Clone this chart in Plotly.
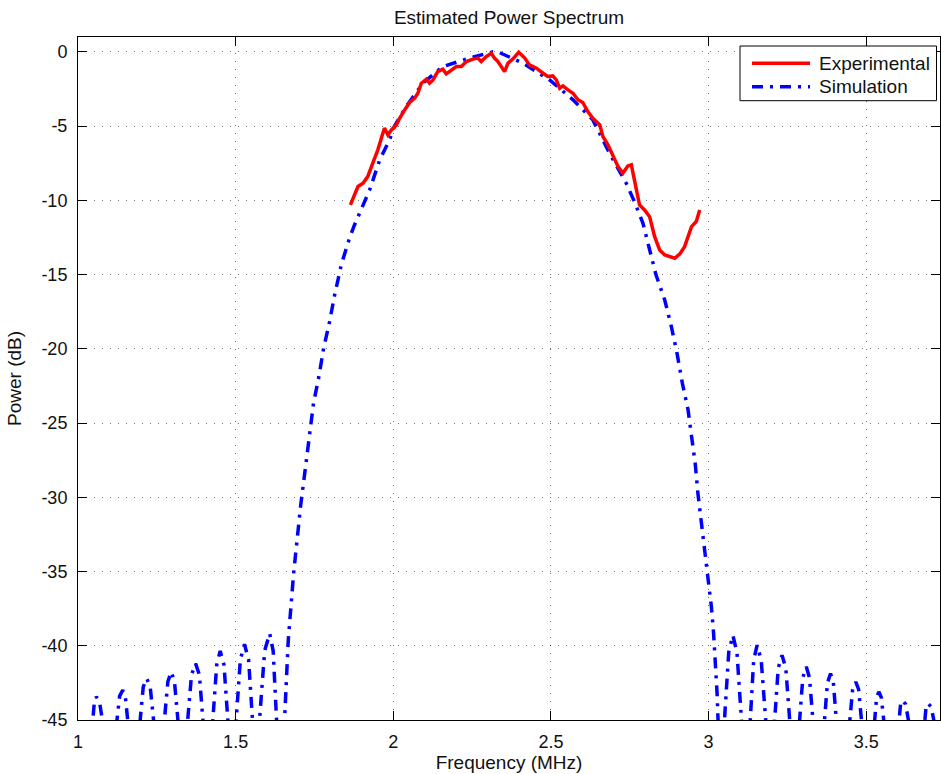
import plotly.graph_objects as go

# ---------------- data ----------------
exp_freq = [1.864, 1.872, 1.888, 1.904, 1.919, 1.935, 1.951, 1.967, 1.972, 1.983,
            1.994, 2.010, 2.020, 2.036, 2.052, 2.068, 2.078, 2.089, 2.105, 2.115,
            2.126, 2.141, 2.157, 2.168, 2.184, 2.200, 2.216, 2.232, 2.253, 2.268,
            2.279, 2.295, 2.311, 2.321, 2.332, 2.343, 2.353, 2.364, 2.379, 2.398,
            2.417, 2.432, 2.454, 2.475, 2.490, 2.506, 2.517, 2.528, 2.538, 2.554,
            2.570, 2.586, 2.601, 2.617, 2.633, 2.655, 2.665, 2.681, 2.697, 2.713,
            2.728, 2.744, 2.755, 2.766, 2.781, 2.797, 2.813, 2.829, 2.845, 2.861,
            2.877, 2.893, 2.909, 2.924, 2.935, 2.946, 2.961, 2.972]
exp_power = [-10.31, -9.86, -9.07, -8.85, -8.40, -7.50, -6.60, -5.48, -5.14, -5.59,
             -5.26, -4.92, -4.47, -3.91, -3.41, -3.12, -2.79, -2.11, -1.84, -2.11,
             -1.89, -1.33, -1.17, -1.48, -1.21, -0.99, -0.99, -0.65, -0.49, -0.42,
             -0.65, -0.32, -0.09, -0.42, -0.65, -0.99, -1.33, -0.76, -0.49, -0.03,
             -0.42, -0.88, -1.10, -1.44, -1.66, -1.62, -1.89, -2.45, -2.29, -2.56,
             -2.79, -3.23, -3.41, -4.02, -4.47, -4.92, -5.71, -6.27, -7.05, -7.73,
             -8.17, -7.68, -7.61, -8.85, -10.31, -10.65, -11.10, -12.45, -13.34, -13.68,
             -13.79, -13.90, -13.61, -13.12, -12.45, -11.77, -11.43, -10.65]

sim_freq = [1.020,
            1.045, 1.052, 1.058, 1.068, 1.081, 1.100,
            1.121, 1.132, 1.142, 1.150, 1.160, 1.178,
            1.195, 1.207, 1.218, 1.229, 1.242, 1.257,
            1.272, 1.285, 1.296, 1.306, 1.319, 1.334,
            1.346, 1.360, 1.373, 1.385, 1.398, 1.412,
            1.426, 1.440, 1.451, 1.463, 1.477, 1.490,
            1.500, 1.515, 1.528, 1.541, 1.555, 1.566,
            1.574, 1.592, 1.608, 1.619, 1.631, 1.645,
            1.654, 1.667, 1.684, 1.706, 1.729, 1.747, 1.764, 1.779, 1.798, 1.814,
            1.835, 1.861, 1.877, 1.899, 1.925, 1.957, 1.988, 2.004, 2.041, 2.094,
            2.157, 2.242, 2.316, 2.337, 2.411, 2.496, 2.570, 2.633, 2.686, 2.739,
            2.765, 2.792, 2.833, 2.861, 2.882, 2.900, 2.917, 2.935, 2.949, 2.958,
            2.966, 2.977, 2.988, 2.998, 3.009, 3.016, 3.022, 3.027, 3.031, 3.040,
            3.049, 3.064, 3.077, 3.090, 3.106, 3.118,
            3.131, 3.143, 3.154, 3.167, 3.183, 3.196,
            3.208, 3.221, 3.233, 3.245, 3.259, 3.273,
            3.287, 3.299, 3.310, 3.320, 3.333, 3.350,
            3.366, 3.377, 3.387, 3.396, 3.407, 3.428,
            3.446, 3.457, 3.467, 3.476, 3.487, 3.505,
            3.525, 3.533, 3.540, 3.548, 3.558, 3.580,
            3.602, 3.609, 3.615, 3.625, 3.638, 3.660,
            3.684, 3.690, 3.696, 3.706, 3.719, 3.735]
sim_power = [-56.0,
             -45.5, -43.75, -43.44, -43.75, -45.5, -56.0,
             -45.5, -43.39, -42.99, -43.39, -45.5, -56.0,
             -45.5, -42.76, -42.20, -42.76, -45.5, -56.0,
             -45.5, -42.41, -41.76, -42.41, -45.5, -56.0,
             -45.5, -41.96, -41.20, -41.96, -45.5, -56.0,
             -45.5, -41.28, -40.35, -41.28, -45.5, -56.0,
             -45.5, -40.92, -39.90, -40.92, -45.5, -56.0,
             -45.5, -40.34, -39.17, -40.34, -45.5, -56.0,
             -45.5, -39.60, -35.10, -30.60, -26.60, -23.67, -21.88, -19.97, -18.17, -16.37,
             -14.35, -12.55, -11.66, -10.53, -9.30, -7.28, -5.93, -5.00, -3.68, -2.11,
             -0.99, -0.42, 0.00, -0.05, -0.76, -1.89, -3.23, -4.58, -6.83, -8.85,
             -10.10, -11.55, -15.00, -16.71, -18.51, -20.30, -22.33, -24.12, -26.15, -27.80,
             -29.70, -31.65, -33.56, -35.36, -37.38, -39.17, -41.19, -43.20, -45.5, -56.0,
             -45.5, -40.43, -39.29, -40.43, -45.5, -56.0,
             -45.5, -40.97, -39.96, -40.97, -45.5, -56.0,
             -45.5, -41.50, -40.63, -41.50, -45.5, -56.0,
             -45.5, -42.14, -41.42, -42.14, -45.5, -56.0,
             -45.5, -42.50, -41.87, -42.50, -45.5, -56.0,
             -45.5, -42.94, -42.43, -42.94, -45.5, -56.0,
             -45.5, -43.48, -43.10, -43.48, -45.5, -56.0,
             -45.5, -43.94, -43.67, -43.94, -45.5, -56.0,
             -45.5, -44.11, -43.89, -44.11, -45.5, -52.0]

x_tick_vals = [1, 1.5, 2, 2.5, 3, 3.5]
x_tick_text = ["1", "1.5", "2", "2.5", "3", "3.5"]
y_tick_vals = [0, -5, -10, -15, -20, -25, -30, -35, -40, -45]
y_tick_text = ["0", "-5", "-10", "-15", "-20", "-25", "-30", "-35", "-40", "-45"]
series_names = ["Experimental", "Simulation"]

# ---------------- styling ----------------
FONT = "Liberation Sans, Arial, Helvetica, sans-serif"
RED = "#ff0000"
BLUE = "#0000ff"
SIM_DASH = "11px,7px,3px,7px"
W, H = 941, 774
ML, MR, MT, MB = 78, 1, 37, 54

fig = go.Figure()
fig.add_trace(go.Scatter(x=sim_freq, y=sim_power, mode="lines", name=series_names[1],
                         line=dict(color=BLUE, width=3.5, dash=SIM_DASH),
                         showlegend=False, cliponaxis=True))
fig.add_trace(go.Scatter(x=exp_freq, y=exp_power, mode="lines", name=series_names[0],
                         line=dict(color=RED, width=3.5),
                         showlegend=False))

grid = dict(showgrid=True, gridcolor="rgba(0,0,0,0.55)", gridwidth=1, griddash="1px,7px")
axis_common = dict(showline=True, linecolor="black", linewidth=1, mirror="allticks",
                   ticks="inside", ticklen=9, tickcolor="black", tickwidth=1,
                   zeroline=False, tickfont=dict(family=FONT, size=18, color="#111"),
                   **grid)

pw = W - ML - MR
ph = H - MT - MB
fig.update_layout(
    width=W, height=H,
    margin=dict(l=ML, r=MR, t=MT, b=MB, autoexpand=False),
    paper_bgcolor="white", plot_bgcolor="white",
    font=dict(family=FONT, color="#111"),
    title=dict(text="Estimated Power Spectrum", x=509 / W, xanchor="center",
               y=1 - 17 / H, yanchor="middle", font=dict(size=19, family=FONT, color="#111")),
    xaxis=dict(range=[1, 1 + pw / 315.28], tickvals=x_tick_vals, ticktext=x_tick_text,
               title=dict(text="Frequency (MHz)", font=dict(size=19, family=FONT), standoff=3),
               ticklabelstandoff=5, **axis_common),
    yaxis=dict(range=[-45, 1], tickvals=y_tick_vals, ticktext=y_tick_text,
               title=dict(text="Power (dB)", font=dict(size=19, family=FONT), standoff=14),
               ticklabelstandoff=6, **axis_common),
    showlegend=False,
)

# manual MATLAB-style legend box (paper coordinates)
def px_x(p):
    return (p - ML) / pw

def px_y(p):
    return (H - MB - p) / ph

fig.add_shape(type="rect", xref="paper", yref="paper",
              x0=px_x(740), x1=px_x(936.5), y0=px_y(100.7), y1=px_y(46),
              line=dict(color="black", width=1), fillcolor="white", layer="above")
rows = [63.3, 86.7]
styles = [dict(color=RED, width=3.5), dict(color=BLUE, width=3.5, dash=SIM_DASH)]
for name, ry, st in zip(series_names, rows, styles):
    fig.add_shape(type="line", xref="paper", yref="paper",
                  x0=px_x(752), x1=px_x(810), y0=px_y(ry), y1=px_y(ry),
                  line=st, layer="above")
    fig.add_annotation(text=name, xref="paper", yref="paper", x=px_x(816.5), y=px_y(ry),
                       xanchor="left", yanchor="middle", showarrow=False,
                       font=dict(size=19, family=FONT, color="#111"))

fig.write_html("out.html")
